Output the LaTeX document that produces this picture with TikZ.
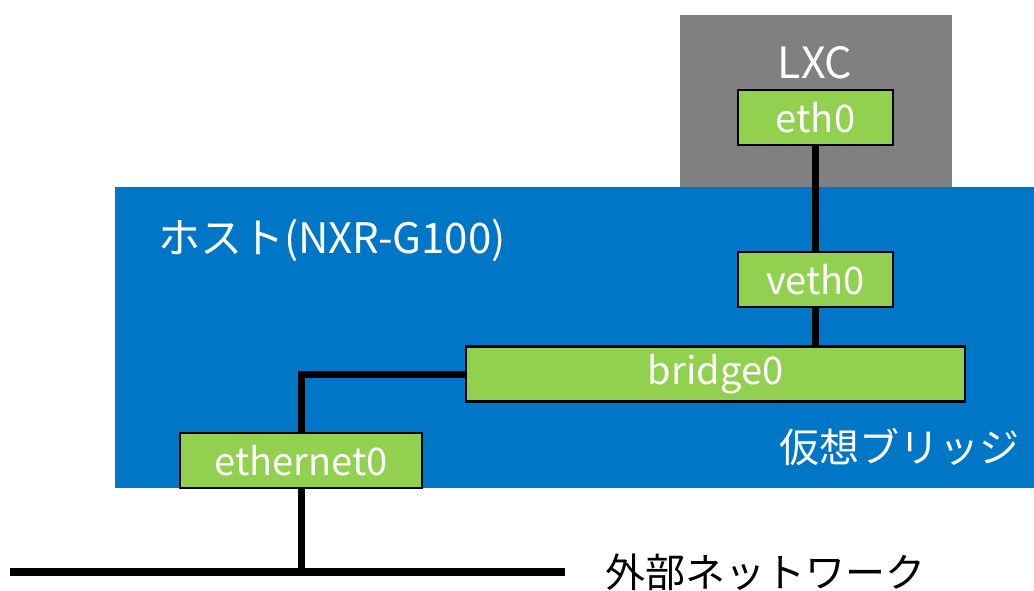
\documentclass[tikz,border=0pt]{standalone}
\usepackage{fontspec}
\setmainfont{Noto Sans CJK JP}
\usetikzlibrary{positioning}
\definecolor{hostblue}{RGB}{0,118,198}
\definecolor{lxcgray}{RGB}{128,128,128}
\definecolor{ifgreen}{RGB}{146,208,80}

\begin{document}
\begin{tikzpicture}[x=1pt,y=-1pt,
    area/.style={inner sep=0pt,anchor=north west},
    iface/.style={draw=black,line width=2.5pt,fill=ifgreen,text=white,
                  inner sep=0pt,minimum height=55pt,
                  font=\fontsize{38}{38}\selectfont},
    lbl/.style={text=white,inner sep=0pt,font=\fontsize{40}{40}\selectfont},
    wire/.style={line width=7pt}]
  \useasboundingbox (0,0) rectangle (1034,590);

  % areas
  \node[area,fill=lxcgray,minimum width=272pt,minimum height=172pt] (lxc) at (680,15) {};
  \node[area,fill=hostblue,minimum width=919pt,minimum height=301pt] (host) at (115,187) {};

  \node[lbl,font=\fontsize{43}{43}\selectfont] (lxclbl) at (815,63) {LXC};
  \node[lbl,anchor=west,font=\fontsize{42}{42}\selectfont] (hostlbl) at (158,240) {ホスト(NXR-G100)};
  \node[lbl,anchor=east] (brlbl) at (1020,447) {仮想ブリッジ};

  % interfaces
  \node[iface,minimum width=155pt] (eth0) at (815.5,117.5) {eth0};
  \node[iface,minimum width=155pt] (veth0) at (815.5,279.5) {veth0};
  \node[iface,minimum width=499pt] (bridge0) at (715.5,374) {bridge0};
  \node[iface,minimum width=242pt] (ethernet0) at (301,460.5) {ethernet0};

  % external network
  \coordinate (netL) at (10,572);
  \coordinate (netR) at (565,572);
  \draw[line width=8pt] (netL) -- (netR);
  \node[inner sep=0pt,anchor=west,font=\fontsize{40}{40}\selectfont] (extlbl) at (605,572) {外部ネットワーク};

  \draw[wire] (eth0.south) -- (veth0.north);
  \draw[wire] (veth0.south) -- (veth0.south |- bridge0.north);
  \draw[wire] (bridge0.west) -| (ethernet0.north);
  \draw[wire] (ethernet0.south) -- (ethernet0.south |- netL);
\end{tikzpicture}
\end{document}
